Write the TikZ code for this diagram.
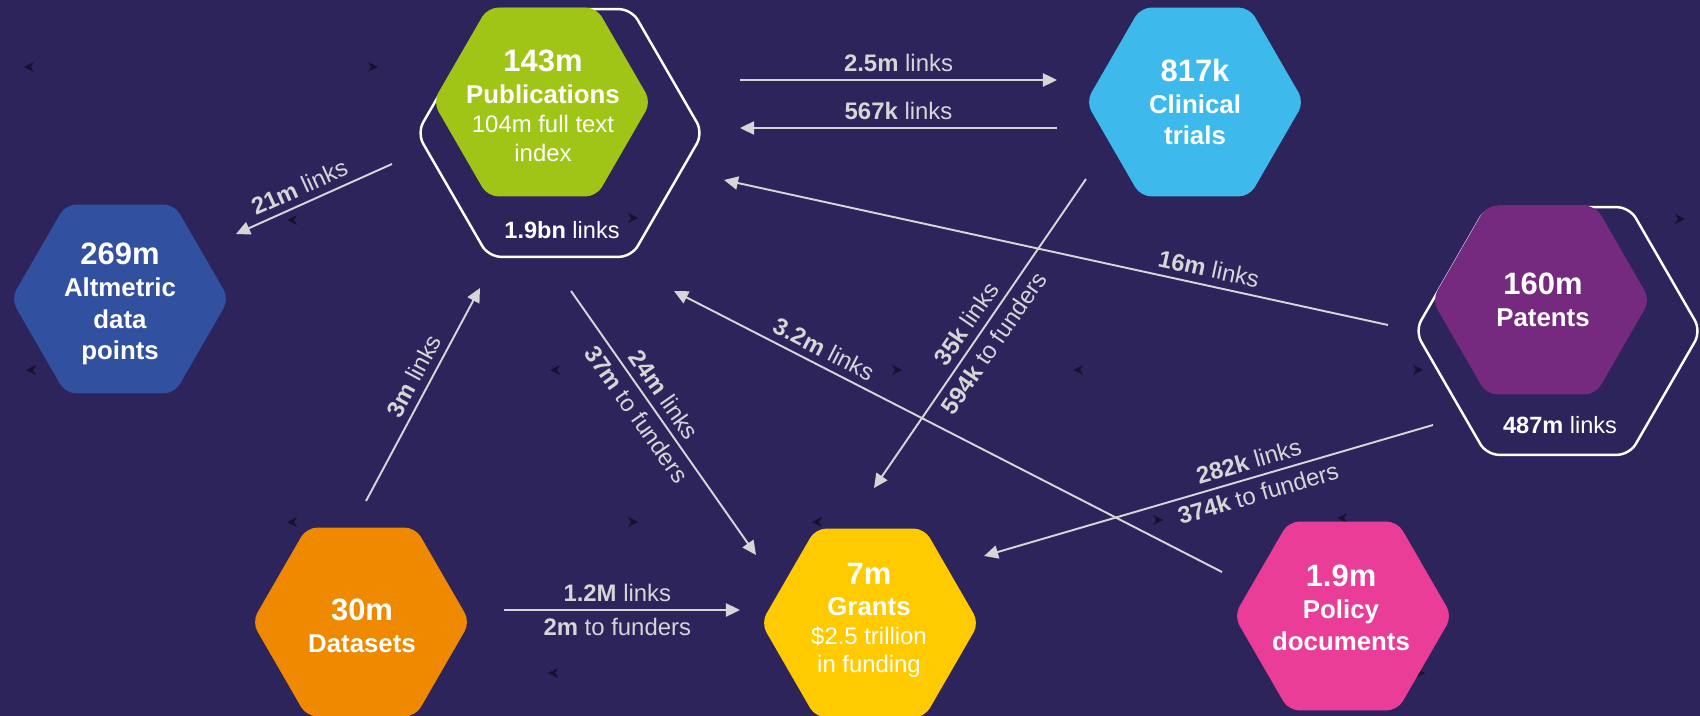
\documentclass[tikz,border=0pt]{standalone}
\usepackage{fontspec}
\setmainfont{Liberation Sans}
\usepackage{xcolor}
\usetikzlibrary{shapes.geometric,arrows.meta}

\definecolor{bgnavy}{HTML}{2D245C}
\definecolor{linkgray}{HTML}{D6D6D6}
\definecolor{markdark}{HTML}{16122E}
\definecolor{pubgreen}{HTML}{A1C517}
\definecolor{trialblue}{HTML}{3DB9EC}
\definecolor{altblue}{HTML}{31509F}
\definecolor{patpurple}{HTML}{75297F}
\definecolor{dataorange}{HTML}{EE8900}
\definecolor{grantyellow}{HTML}{FFCB00}
\definecolor{policypink}{HTML}{E93D97}

\newcommand{\hexnum}{\fontsize{17.6}{18}\selectfont}
\newcommand{\hexsub}{\fontsize{13.6}{16}\selectfont\mdseries}

\begin{document}
\begin{tikzpicture}[x=0.02cm,y=-0.02cm]
%%%%%%%%%%%%%%%%%%%%%%%%%%%%%%%%%%%%%%%%%%%%%%%%%%%%%%%%%%%%%%
%BACKGROUND
\fill[bgnavy] (0,0) rectangle (1700,716);
\useasboundingbox (0,0) rectangle (1700,716);
%markers
\foreach \mx/\my in {24/67,287/220,26/370,550/370,1073/370,287/522,812/522,1337/518,548/673}
  \fill[markdark] (\mx,\my) -- ++(10,-5) -- ++(-3,5) -- ++(3,5) -- cycle;
\foreach \mx/\my in {378/67,638/218,1685/219,902/370,1423/370,638/522,1163/520,1425/673}
  \fill[markdark] (\mx,\my) -- ++(-10,-5) -- ++(3,5) -- ++(-3,5) -- cycle;

%%%%%%%%%%%%%%%%%%%%%%%%%%%%%%%%%%%%%%%%%%%%%%%%%%%%%%%%%%%%%%
%vertex
%vars
\tikzstyle{hexa}=[regular polygon,regular polygon sides=6,minimum size=4.36cm,inner sep=0pt,rounded corners=6pt]
\tikzstyle{ring}=[regular polygon,regular polygon sides=6,minimum size=5.72cm,inner sep=0pt,rounded corners=7pt,draw=white,line width=1.4pt]
\tikzstyle{hextext}=[text=white,align=center,inner sep=0pt,font=\fontsize{14.7}{18.1}\selectfont\bfseries]
\tikzstyle{ringtext}=[text=white,anchor=base,inner sep=0pt,font=\fontsize{13.4}{16}\selectfont]
\tikzstyle{link}=[draw=linkgray,line width=1.1pt,-{Triangle[length=8pt,width=7.5pt]}]
\tikzstyle{lbl}=[text=linkgray,sloped,inner sep=4pt,font=\fontsize{13.6}{16}\selectfont]

%rings
\node[ring] (pubring) at (560,133) {};
\node[ring] (patring) at (1558,331) {};

%publications
\node[hexa,fill=pubgreen] (pub) at (542,102) {};
\node[hextext] (pubtxt) at (543,106) {{\hexnum 143m}\\Publications\\[-1.7pt]{\hexsub 104m full text}\\[-1.7pt]{\hexsub index}};
\node[ringtext] (publinks) at (562,238) {\textbf{1.9bn} links};
%clinical trials
\node[hexa,fill=trialblue] (clin) at (1195,102) {};
\node[hextext] (clintxt) at (1195,102) {{\hexnum 817k}\\Clinical\\trials};
%altmetric
\node[hexa,fill=altblue] (alt) at (120,299) {};
\node[hextext] (alttxt) at (120,304) {{\hexnum 269m}\\Altmetric\\data\\points};
%patents
\node[hexa,fill=patpurple] (pat) at (1541,300) {};
\node[hextext] (pattxt) at (1543,300) {{\hexnum 160m}\\Patents};
\node[ringtext] (patlinks) at (1560,433) {\textbf{487m} links};
%datasets
\node[hexa,fill=dataorange] (data) at (361,622) {};
\node[hextext] (datatxt) at (362,626) {{\hexnum 30m}\\Datasets};
%grants
\node[hexa,fill=grantyellow] (grant) at (870,623) {};
\node[hextext] (granttxt) at (869,620) {{\hexnum 7m}\\Grants\\[-1.7pt]{\hexsub \$2.5 trillion}\\[-2.5pt]{\hexsub in funding}};
%policy
\node[hexa,fill=policypink] (policy) at (1343,616) {};
\node[hextext] (policytxt) at (1341,608) {{\hexnum 1.9m}\\Policy\\documents};

%%%%%%%%%%%%%%%%%%%%%%%%%%%%%%%%%%%%%%%%%%%%%%%%%%%%%%%%%%%%%%
%ARROWS
%ends
\coordinate (pc1) at (740,80);
\coordinate (pc2) at (1057,80);
\coordinate (cp1) at (1057,128);
\coordinate (cp2) at (740,128);
\coordinate (pa1) at (392,164);
\coordinate (pa2) at (236,234);
\coordinate (dp1) at (366,501);
\coordinate (dp2) at (480,288);
\coordinate (pg1) at (571,291);
\coordinate (pg2) at (756,555);
\coordinate (lp1) at (1222,572);
\coordinate (lp2) at (674,291);
\coordinate (tp1) at (1388,325);
\coordinate (tp2) at (724,180);
\coordinate (cg1) at (1086,179);
\coordinate (cg2) at (874,488);
\coordinate (tg1) at (1433,425);
\coordinate (tg2) at (984,556);
\coordinate (dg1) at (504,610);
\coordinate (dg2) at (740,610);

%pub<->clin
\draw[link] (pc1) -- node[lbl,above] {\textbf{2.5m} links} (pc2);
\draw[link] (cp1) -- node[lbl,above] {\textbf{567k} links} (cp2);
%pub->alt
\draw[link] (pa1) -- node[lbl,above,pos=0.55] {\textbf{21m} links} (pa2);
%data->pub
\draw[link] (dp1) -- node[lbl,above,pos=0.55] {\textbf{3m} links} (dp2);
%pub->grant
\draw[link] (pg1) -- node[lbl,above,pos=0.43] {\textbf{24m} links}
  node[lbl,below,pos=0.43] {\textbf{37m} to funders} (pg2);
%policy->pub
\draw[link] (lp1) -- node[lbl,above,pos=0.74] {\textbf{3.2m} links} (lp2);
%patents->pub
\draw[link] (tp1) -- node[lbl,above,pos=0.275] {\textbf{16m} links} (tp2);
%clin->grant
\draw[link] (cg1) -- node[lbl,above,pos=0.5] {\textbf{35k} links}
  node[lbl,below,pos=0.5] {\textbf{594k} to funders} (cg2);
%patents->grant
\draw[link] (tg1) -- node[lbl,above,pos=0.4] {\textbf{282k} links}
  node[lbl,below,pos=0.4] {\textbf{374k} to funders} (tg2);
%data->grant
\draw[link] (dg1) -- node[lbl,above,pos=0.48] {\textbf{1.2M} links}
  node[lbl,below,pos=0.48] {\textbf{2m} to funders} (dg2);
\end{tikzpicture}
\end{document}
